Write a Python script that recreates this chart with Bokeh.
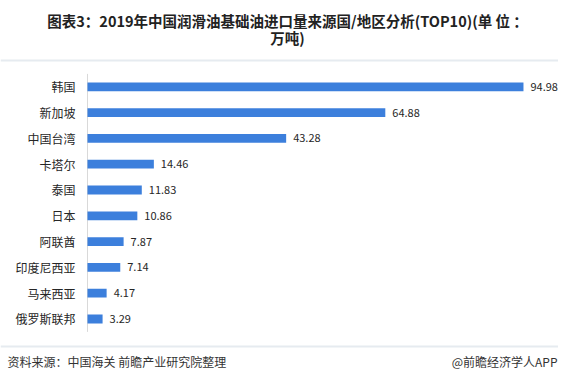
from bokeh.plotting import figure
from bokeh.models import ColumnDataSource, Range1d, Label, Span
from bokeh.core.properties import value
from bokeh.embed import file_html
from bokeh.resources import INLINE

categories = ["韩国", "新加坡", "中国台湾", "卡塔尔", "泰国", "日本", "阿联酋", "印度尼西亚", "马来西亚", "俄罗斯联邦"]
values = [94.98, 64.88, 43.28, 14.46, 11.83, 10.86, 7.87, 7.14, 4.17, 3.29]
value_labels = ["94.98", "64.88", "43.28", "14.46", "11.83", "10.86", "7.87", "7.14", "4.17", "3.29"]
title_line1 = "图表3：2019年中国润滑油基础油进口量来源国/地区分析(TOP10)(单 位 ："
title_line2 = "万吨)"
source_text = "资料来源：中国海关 前瞻产业研究院整理"
credit_text = "@前瞻经济学人APP"

W, H = 558, 371
FONT = "Noto Sans CJK SC"

idx = list(range(len(categories)))
src = ColumnDataSource(dict(y=idx, v=values, cat=categories, lab=value_labels, zero=[0] * len(idx)))

p = figure(width=W, height=H, output_backend="svg", toolbar_location=None,
           x_range=Range1d(-18.95, 102.61), y_range=Range1d(11.035, -3.345),
           min_border=0, min_border_left=0, min_border_right=0, min_border_top=0, min_border_bottom=0,
           x_axis_type=None, y_axis_type=None, outline_line_color=None)
p.xgrid.visible = False
p.ygrid.visible = False
p.background_fill_color = "white"
p.border_fill_color = "white"

# axis line
p.segment(x0=[0], y0=[-0.5], x1=[0], y1=[len(categories) - 0.5], line_color="#d9d9d9", line_width=1)

p.hbar(y="y", right="v", left=0, height=0.34, source=src, fill_color="#3c7fdc", line_color=None)

p.text(x="zero", y="y", text="cat", source=src, x_offset=-12, text_align="right", text_baseline="middle",
       text_font=value(FONT), text_font_size="12px", text_color="#262626")
p.text(x="v", y="y", text="lab", source=src, x_offset=7, text_align="left", text_baseline="middle",
       text_font=value(FONT), text_font_size="11px", text_color="#262626")

p.add_layout(Label(x=287, y=H - 20, x_units="screen", y_units="screen", text=title_line1,
                   text_align="center", text_baseline="middle", text_font=FONT, text_font_size="14.5px",
                   text_font_style="bold", text_color="#222222"))
p.add_layout(Label(x=287, y=H - 37, x_units="screen", y_units="screen", text=title_line2,
                   text_align="center", text_baseline="middle", text_font=FONT, text_font_size="14.5px",
                   text_font_style="bold", text_color="#222222"))

p.add_layout(Span(location=H - 60, location_units="screen", dimension="width", line_color="#e6ebf0", line_width=2))
p.add_layout(Span(location=H - 346, location_units="screen", dimension="width", line_color="#e6ebf0", line_width=2))

p.add_layout(Label(x=7, y=H - 361, x_units="screen", y_units="screen", text=source_text,
                   text_align="left", text_baseline="middle", text_font=FONT, text_font_size="12px",
                   text_color="#333333"))
p.add_layout(Label(x=W - 1, y=H - 361, x_units="screen", y_units="screen", text=credit_text,
                   text_align="right", text_baseline="middle", text_font=FONT, text_font_size="12px",
                   text_color="#333333"))

open("out.html", "w").write(file_html(p, INLINE))
